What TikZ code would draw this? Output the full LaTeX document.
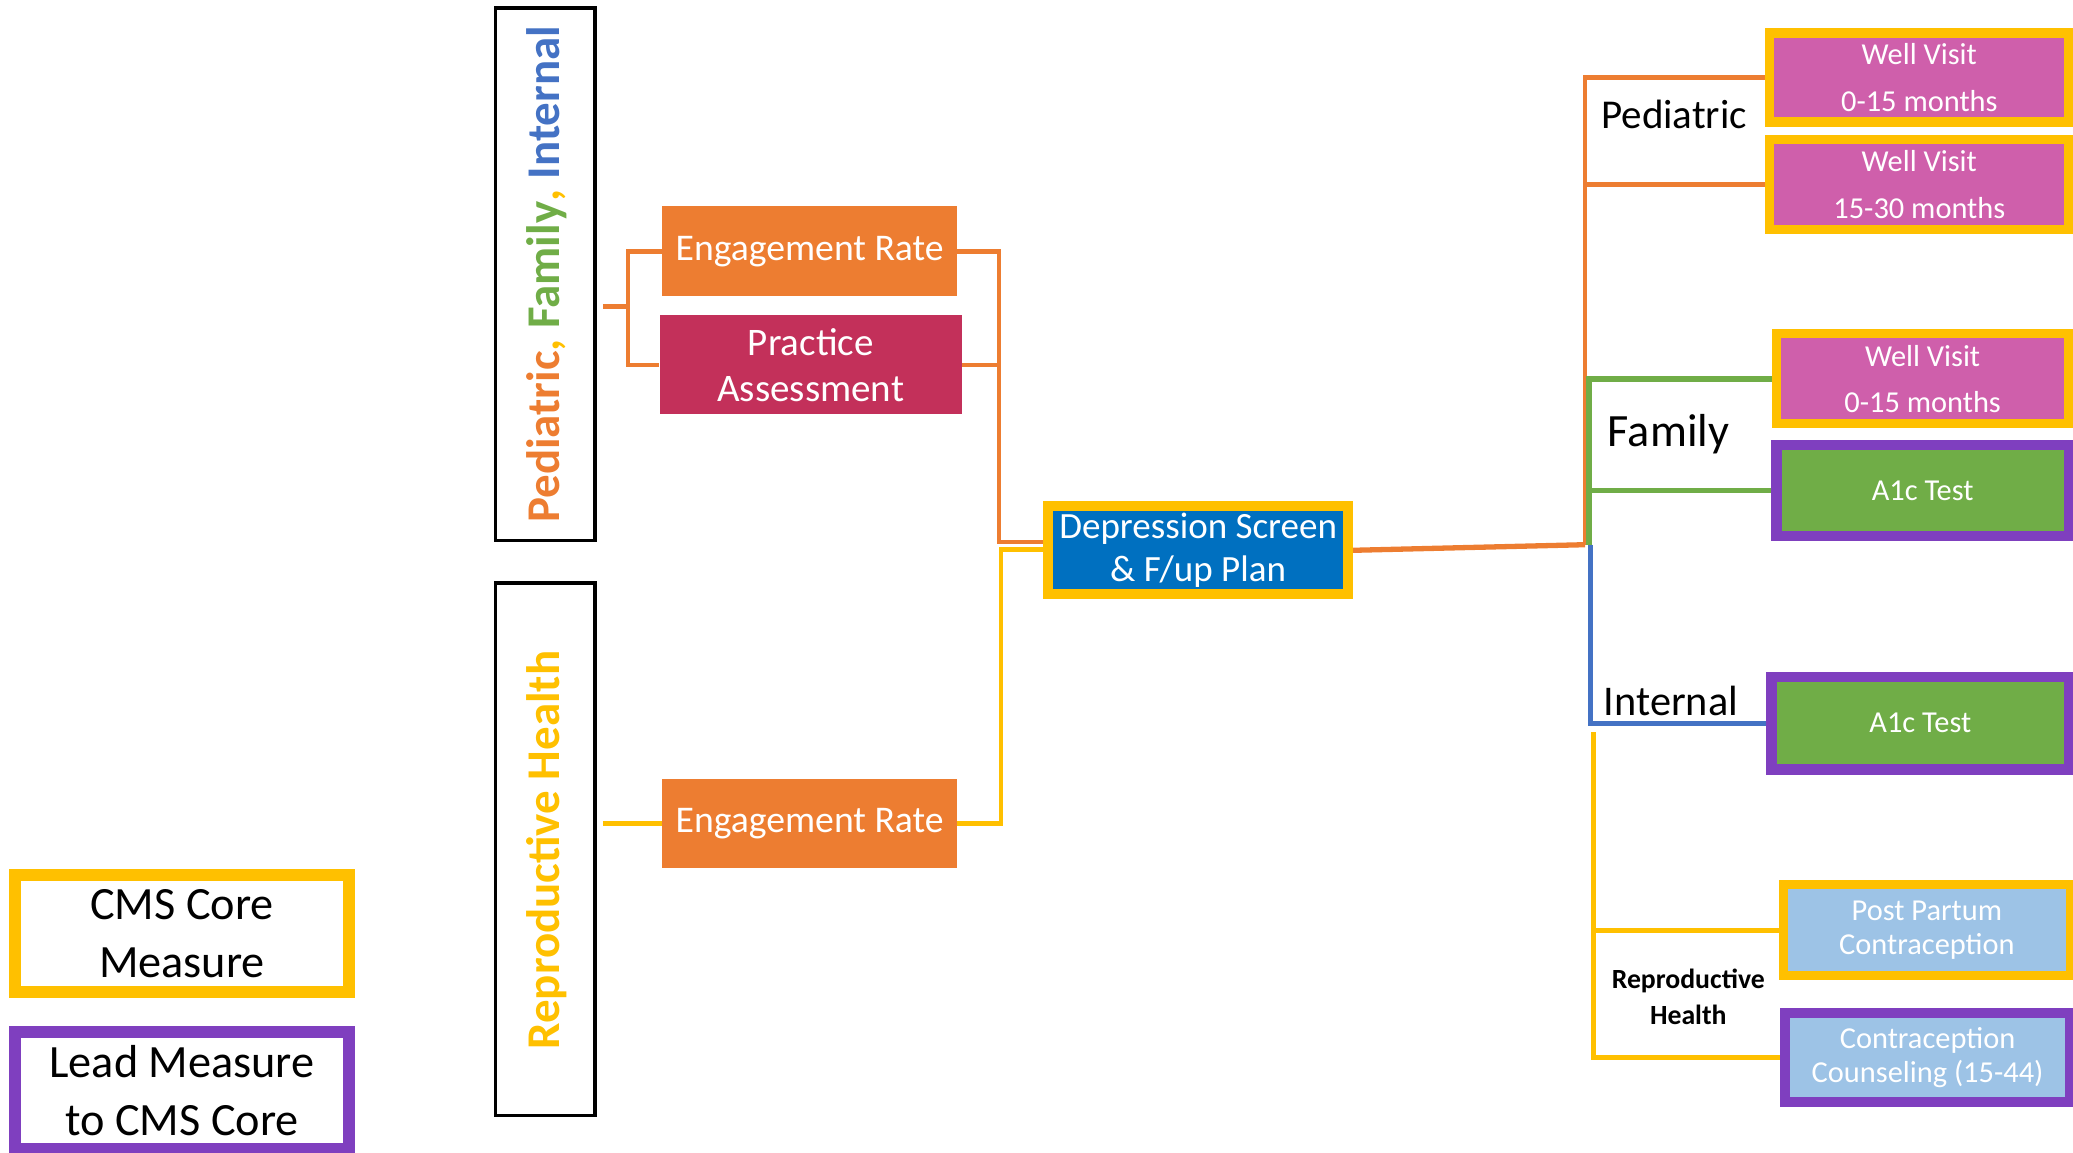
\documentclass[tikz,border=0pt]{standalone}
\usepackage{fontspec}
\setmainfont{Carlito}
\usetikzlibrary{backgrounds,calc}
\definecolor{corange}{HTML}{ED7D31}
\definecolor{cgold}{HTML}{FFC000}
\definecolor{cgreen}{HTML}{70AD47}
\definecolor{cblue}{HTML}{4472C4}
\definecolor{cdepblue}{HTML}{0070C0}
\definecolor{ccrimson}{HTML}{C3305A}
\definecolor{cmagenta}{HTML}{CF5FAB}
\definecolor{cpurple}{HTML}{7F3FBF}
\definecolor{clightblue}{HTML}{9DC3E6}
\tikzset{
  box/.style={rectangle, inner sep=0pt, align=center, text=white},
  cmsbox/.style={box, draw=cgold, line width=7pt},
  leadbox/.style={box, draw=cpurple, line width=8pt},
  catbox/.style={rectangle, draw=black, line width=2.5pt, minimum width=75pt, minimum height=403pt},
  cattext/.style={rotate=90, anchor=base, inner sep=0pt, font=\fontsize{35.5}{40}\selectfont\bfseries},
  conn/.style={line width=3.5pt},
  lbl/.style={anchor=base west, inner sep=0pt},
  wv/.style={font=\fontsize{23}{35}\selectfont},
  sm/.style={font=\fontsize{23}{26}\selectfont},
}
\begin{document}
\begin{tikzpicture}[x=1pt,y=-1pt]
\useasboundingbox (0,0) rectangle (1568,872);
% category boxes
\node[catbox] (catA) at (412.5,207.5) {};
\node[cattext] (catAtext) at (423.5,207.5) {\textcolor{corange}{Pediatric}\textcolor{cgold}{, }\textcolor{cgreen}{Family}\textcolor{cgold}{, }\textcolor{cblue}{Internal}};
\node[catbox] (catB) at (412.5,642.5) {};
\node[cattext, text=cgold] (catBtext) at (423,643) {Reproductive Health};
% left measures
\node[box, fill=corange, minimum width=223pt, minimum height=68pt, font=\fontsize{28.5}{34}\selectfont] (er1) at (612.4,190) {Engagement Rate};
\node[box, fill=ccrimson, minimum width=228.5pt, minimum height=75pt, font=\fontsize{29.5}{35}\selectfont] (pa) at (613.25,276) {Practice\\Assessment};
\node[box, fill=corange, minimum width=223pt, minimum height=68pt, font=\fontsize{28.5}{34}\selectfont] (er2) at (612.4,622.9) {Engagement Rate};
% depression
\node[box, fill=cdepblue, draw=cgold, line width=7.5pt, minimum width=226.5pt, minimum height=66.5pt, font=\fontsize{28}{32}\selectfont] (dep) at (906.25,416.25) {Depression Screen\\\& F/up Plan};
% right measures
\node[cmsbox, fill=cmagenta, minimum width=226.5pt, minimum height=67.3pt, wv] (wv1) at (1451.75,58.65) {Well Visit\\0-15 months};
\node[cmsbox, fill=cmagenta, minimum width=226.5pt, minimum height=67.75pt, wv] (wv2) at (1451.75,139.6) {Well Visit\\15-30 months};
\node[cmsbox, fill=cmagenta, minimum width=221.5pt, minimum height=68pt, wv] (fwv) at (1454.25,286.5) {Well Visit\\0-15 months};
\node[leadbox, fill=cgreen, minimum width=221.5pt, minimum height=69pt, font=\fontsize{23}{26}\selectfont] (fa1c) at (1454.25,371) {A1c Test};
\node[leadbox, fill=cgreen, minimum width=225pt, minimum height=69.75pt, font=\fontsize{23}{26}\selectfont] (ia1c) at (1452.5,547.1) {A1c Test};
\node[cmsbox, fill=clightblue, minimum width=217.5pt, minimum height=69pt, sm] (pp) at (1457.5,703.6) {Post Partum\\Contraception};
\node[leadbox, fill=clightblue, minimum width=216pt, minimum height=67.5pt, sm] (cc) at (1458,799.9) {Contraception\\Counseling (15-44)};
% branch labels
\node[lbl, font=\fontsize{31}{37}\selectfont] (lped) at (1211,97) {Pediatric};
\node[lbl, font=\fontsize{35}{40}\selectfont] (lfam) at (1216,338) {Family};
\node[lbl, font=\fontsize{32}{38}\selectfont] (lint) at (1213,541) {Internal};
\node[inner sep=0pt, align=center, font=\fontsize{21}{27}\selectfont\bfseries] (lrep) at (1277,754) {Reproductive\\Health};
% legend
\node[box, text=black, draw=cgold, line width=9pt, minimum width=252.9pt, minimum height=88.75pt, font=\fontsize{35}{44}\selectfont] (legCMS) at (137.65,706.1) {CMS Core\\Measure};
\node[box, text=black, draw=cpurple, line width=9pt, minimum width=252.9pt, minimum height=88.5pt, font=\fontsize{35}{44}\selectfont] (legLead) at (137.65,824.75) {Lead Measure\\to CMS Core};
% junction coordinates
\coordinate (aStub) at (456,232);
\coordinate (jA) at (475,232);
\coordinate (bStub) at (456,622.9);
\coordinate (jR) at (755.5,410);
\coordinate (jG) at (757,415.5);
\coordinate (jRight) at (1199,412);
\coordinate (jFam) at (1202,412);
\coordinate (jInt) at (1203,412);
\coordinate (jRep) at (1205.5,554);
\begin{pgfonlayer}{background}
\draw[conn, corange] (aStub) -- (jA);
\draw[conn, corange] (er1.west) -| (jA) |- (pa.west);
\draw[conn, cgold] (bStub) -- (er2.west);
\draw[conn, cgold] (er2.east) -| (jG) -- (dep.west |- jG);
\draw[conn, corange] (er1.east) -| (jR) -- (dep.west |- jR);
\draw[conn, corange] (pa.east) -- (pa.east -| jR);
\draw[conn, corange, line width=4pt] (dep.east) -- (jRight);
\draw[conn, corange] (jRight) |- (wv1.west);
\draw[conn, corange] (wv2.west) -- (wv2.west -| jRight);
\draw[conn, cgreen, line width=4.5pt] (jFam) |- (fwv.west);
\draw[conn, cgreen, line width=4.5pt] (fa1c.west) -- (fa1c.west -| jFam);
\draw[conn, cblue] (jInt) |- (ia1c.west);
\draw[conn, cgold] (jRep) |- (pp.west);
\draw[conn, cgold] (jRep) |- (cc.west);
\end{pgfonlayer}
\end{tikzpicture}
\end{document}
